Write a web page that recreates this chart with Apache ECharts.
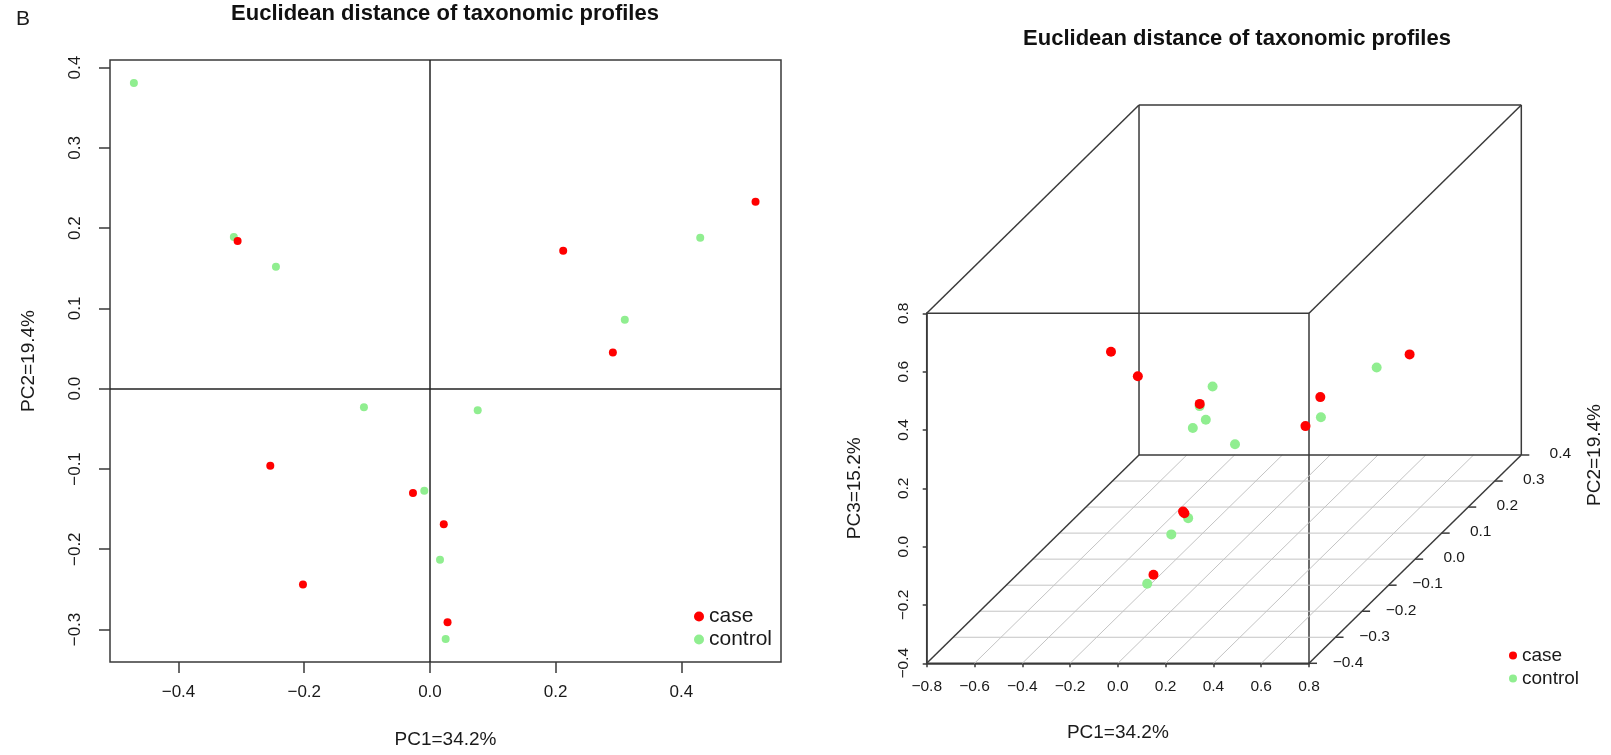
<!DOCTYPE html>
<html>
<head>
<meta charset="utf-8">
<script src="https://cdn.jsdelivr.net/npm/echarts@6/dist/echarts.min.js"></script>
<style>
html,body{margin:0;padding:0;background:#fff;}
#chart{width:1611px;height:755px;}
</style>
</head>
<body>
<div id="chart"></div>
<script>
// ---------------- data ----------------
const PANEL_LABEL = 'B';
const TITLE = 'Euclidean distance of taxonomic profiles';
const GROUPS = ['case', 'control'];
const PC1_NAME = 'PC1=34.2%';
const PC2_NAME = 'PC2=19.4%';
const PC3_NAME = 'PC3=15.2%';

const CASE_PC1 = [-0.306, 0.518, 0.212, 0.291, -0.254, -0.027, 0.022, -0.202, 0.028];
const CASE_PC2 = [0.184, 0.233, 0.172, 0.045, -0.096, -0.130, -0.169, -0.244, -0.291];
const CASE_PC3 = [-0.032, 0.094, 0.002, 0.016, 0.313, -0.121, -0.092, 0.529, -0.194];

const CONTROL_PC1 = [-0.471, -0.312, -0.245, 0.430, 0.310, -0.105, 0.076, -0.009, 0.016, 0.025];
const CONTROL_PC2 = [0.381, 0.189, 0.152, 0.188, 0.086, -0.023, -0.027, -0.127, -0.213, -0.312];
const CONTROL_PC3 = [-0.148, -0.044, -0.058, 0.089, 0.010, 0.070, 0.018, -0.146, -0.125, -0.206];

// tick labels
const X2D_TICKS = [-0.4, -0.2, 0.0, 0.2, 0.4];
const Y2D_TICKS = [-0.3, -0.2, -0.1, 0.0, 0.1, 0.2, 0.3, 0.4];
const PC1_3D_TICKS = [-0.8, -0.6, -0.4, -0.2, 0.0, 0.2, 0.4, 0.6, 0.8];
const PC2_3D_TICKS = [-0.4, -0.3, -0.2, -0.1, 0.0, 0.1, 0.2, 0.3, 0.4];
const PC3_3D_TICKS = [-0.4, -0.2, 0.0, 0.2, 0.4, 0.6, 0.8];

// ---------------- helpers ----------------
const FONT = '"Liberation Sans", Arial, Helvetica, sans-serif';
const C_CASE = '#FF0000';
const C_CONTROL = '#90EE90';
const C_AXIS = '#3a3a3a';
const C_TEXT = '#1a1a1a';

function fmt(v) {
  let s = Math.abs(v) < 1e-9 ? '0.0' : v.toFixed(1);
  return s.replace('-', '\u2212');
}
function zip2(a, b) { return a.map((v, i) => [v, b[i]]); }

// 3D box ranges (from tick arrays)
const P1MIN = PC1_3D_TICKS[0], P1MAX = PC1_3D_TICKS[PC1_3D_TICKS.length - 1];
const P2MIN = PC2_3D_TICKS[0], P2MAX = PC2_3D_TICKS[PC2_3D_TICKS.length - 1];
const P3MIN = PC3_3D_TICKS[0], P3MAX = PC3_3D_TICKS[PC3_3D_TICKS.length - 1];
// oblique projection: depth (PC2) shifts to the right and up, in front-face axis units
const KX = 1.1107, KY = 0.8927;
function proj(p1, p2, p3) {
  return [p1 + (p2 - P2MIN) * KX, p3 + (p2 - P2MIN) * KY];
}
function proj3(a1, a2, a3) { return a1.map((v, i) => proj(v, a2[i], a3[i])); }

const lineStyleBox = { stroke: C_AXIS, lineWidth: 1.5 };
function seg(api, a, b, style) {
  const p = api.coord(a), q = api.coord(b);
  return { type: 'line', shape: { x1: p[0], y1: p[1], x2: q[0], y2: q[1] }, style: style };
}

const chart = echarts.init(document.getElementById('chart'), null, { renderer: 'canvas' });

const option = {
  animation: false,
  backgroundColor: '#ffffff',
  textStyle: { fontFamily: FONT },
  graphic: [
    { type: 'text', x: 23, y: 19, style: { text: PANEL_LABEL, fontSize: 21, fontFamily: FONT, fill: C_TEXT, align: 'center', verticalAlign: 'middle' } },
    { type: 'text', x: 445, y: 14, style: { text: TITLE, fontSize: 22, fontWeight: 'bold', fontFamily: FONT, fill: '#111', align: 'center', verticalAlign: 'middle' } },
    { type: 'text', x: 1237, y: 38.5, style: { text: TITLE, fontSize: 22, fontWeight: 'bold', fontFamily: FONT, fill: '#111', align: 'center', verticalAlign: 'middle' } },
    { type: 'text', x: 1595, y: 455, rotation: Math.PI / 2, style: { text: PC2_NAME, fontSize: 19, fontFamily: FONT, fill: C_TEXT, align: 'center', verticalAlign: 'middle' } }
  ],
  legend: [
    { left: 694, top: 606, orient: 'vertical', padding: 0, itemWidth: 10, itemHeight: 10, itemGap: 2, icon: 'circle',
      data: GROUPS, selectedMode: false, textStyle: { fontSize: 21, color: C_TEXT, fontFamily: FONT } },
    { left: 1509, top: 646, orient: 'vertical', padding: 0, itemWidth: 8, itemHeight: 8, itemGap: 4, icon: 'circle',
      data: GROUPS, selectedMode: false, textStyle: { fontSize: 19, color: C_TEXT, fontFamily: FONT } }
  ],
  grid: [
    { left: 110, top: 60, width: 671, height: 602, show: true, borderColor: C_AXIS, borderWidth: 1.5, containLabel: false },
    { left: 926.7, top: 313.3, width: 382.3, height: 350, show: true, borderColor: C_AXIS, borderWidth: 1.5, containLabel: false }
  ],
  xAxis: [
    { type: 'value', gridIndex: 0, min: -0.509, max: 0.5585,
      axisLine: { show: false, onZero: false }, splitLine: { show: false },
      axisTick: { show: true, customValues: X2D_TICKS, length: 11, lineStyle: { color: C_AXIS, width: 1.5 } },
      axisLabel: { customValues: X2D_TICKS, formatter: fmt, fontSize: 17, color: C_TEXT, margin: 22, fontFamily: FONT },
      name: PC1_NAME, nameLocation: 'middle', nameGap: 68, nameTextStyle: { fontSize: 19, color: C_TEXT, fontFamily: FONT } },
    { type: 'value', gridIndex: 1, min: P1MIN, max: P1MAX, interval: 0.2,
      axisLine: { show: true, onZero: false, lineStyle: { color: C_AXIS, width: 1.5 } }, splitLine: { show: false },
      axisTick: { show: true, customValues: PC1_3D_TICKS, length: 4, lineStyle: { color: C_AXIS, width: 1.5 } },
      axisLabel: { customValues: PC1_3D_TICKS, formatter: fmt, fontSize: 15.5, color: C_TEXT, margin: 15, fontFamily: FONT },
      name: PC1_NAME, nameLocation: 'middle', nameGap: 60, nameTextStyle: { fontSize: 19, color: C_TEXT, fontFamily: FONT } }
  ],
  yAxis: [
    { type: 'value', gridIndex: 0, min: -0.3405, max: 0.4095,
      axisLine: { show: false, onZero: false }, splitLine: { show: false },
      axisTick: { show: true, customValues: Y2D_TICKS, length: 11, lineStyle: { color: C_AXIS, width: 1.5 } },
      axisLabel: { customValues: Y2D_TICKS, formatter: fmt, rotate: 90, fontSize: 17, color: C_TEXT, margin: 26, fontFamily: FONT },
      name: PC2_NAME, nameLocation: 'middle', nameGap: 72, nameRotate: 90, nameTextStyle: { fontSize: 19, color: C_TEXT, fontFamily: FONT } },
    { type: 'value', gridIndex: 1, min: P3MIN, max: P3MAX, interval: 0.2,
      axisLine: { show: true, onZero: false, lineStyle: { color: C_AXIS, width: 1.5 } }, splitLine: { show: false },
      axisTick: { show: true, customValues: PC3_3D_TICKS, length: 4, lineStyle: { color: C_AXIS, width: 1.5 } },
      axisLabel: { customValues: PC3_3D_TICKS, formatter: fmt, rotate: 90, fontSize: 15.5, color: C_TEXT, margin: 15, fontFamily: FONT },
      name: PC3_NAME, nameLocation: 'middle', nameGap: 62, nameRotate: 90, nameTextStyle: { fontSize: 19, color: C_TEXT, fontFamily: FONT } }
  ],
  series: [
    // ---- left 2D plot ----
    { name: GROUPS[1], type: 'scatter', xAxisIndex: 0, yAxisIndex: 0, symbol: 'circle', symbolSize: 8,
      itemStyle: { color: C_CONTROL, opacity: 1 }, data: zip2(CONTROL_PC1, CONTROL_PC2),
      markLine: { silent: true, symbol: ['none', 'none'], label: { show: false }, animation: false,
        lineStyle: { color: '#222', width: 1.5, type: 'solid' },
        data: [{ xAxis: 0 }, { yAxis: 0 }] } },
    { name: GROUPS[0], type: 'scatter', xAxisIndex: 0, yAxisIndex: 0, symbol: 'circle', symbolSize: 8,
      itemStyle: { color: C_CASE, opacity: 1 }, data: zip2(CASE_PC1, CASE_PC2) },

    // ---- right 3D plot: floor grid lines parallel to PC1 (at PC2 ticks) ----
    { type: 'custom', xAxisIndex: 1, yAxisIndex: 1, silent: true, clip: false,
      data: PC2_3D_TICKS.slice(1, -1).map(v => [v, 0]),
      renderItem: function (params, api) {
        const v = api.value(0);
        return seg(api, proj(P1MIN, v, P3MIN), proj(P1MAX, v, P3MIN), { stroke: '#c4c4c4', lineWidth: 1 });
      } },
    // floor grid lines parallel to PC2 (at PC1 ticks)
    { type: 'custom', xAxisIndex: 1, yAxisIndex: 1, silent: true, clip: false,
      data: PC1_3D_TICKS.slice(1, -1).map(v => [v, 0]),
      renderItem: function (params, api) {
        const v = api.value(0);
        return seg(api, proj(v, P2MIN, P3MIN), proj(v, P2MAX, P3MIN), { stroke: '#c4c4c4', lineWidth: 1 });
      } },
    // box: back face and connecting edges
    { type: 'custom', xAxisIndex: 1, yAxisIndex: 1, silent: true, clip: false,
      data: [[P1MIN, P3MIN]],
      renderItem: function (params, api) {
        const ch = [];
        const xs = [P1MIN, P1MAX], zs = [P3MIN, P3MAX];
        ch.push(seg(api, proj(P1MIN, P2MAX, P3MIN), proj(P1MAX, P2MAX, P3MIN), lineStyleBox));
        ch.push(seg(api, proj(P1MIN, P2MAX, P3MAX), proj(P1MAX, P2MAX, P3MAX), lineStyleBox));
        ch.push(seg(api, proj(P1MIN, P2MAX, P3MIN), proj(P1MIN, P2MAX, P3MAX), lineStyleBox));
        ch.push(seg(api, proj(P1MAX, P2MAX, P3MIN), proj(P1MAX, P2MAX, P3MAX), lineStyleBox));
        xs.forEach(x => zs.forEach(z => ch.push(seg(api, proj(x, P2MIN, z), proj(x, P2MAX, z), lineStyleBox))));
        return { type: 'group', children: ch };
      } },
    // PC2 axis ticks and labels
    { type: 'custom', xAxisIndex: 1, yAxisIndex: 1, silent: true, clip: false,
      data: PC2_3D_TICKS.map(v => [v, 0]),
      renderItem: function (params, api) {
        const v = api.value(0);
        const p = api.coord(proj(P1MAX, v, P3MIN));
        return { type: 'group', children: [
          { type: 'line', shape: { x1: p[0], y1: p[1], x2: p[0] + 8, y2: p[1] }, style: { stroke: C_AXIS, lineWidth: 1.5 } },
          { type: 'text', x: p[0] + 39, y: p[1] - 1,
            style: { text: fmt(v), fontSize: 15.5, fontFamily: FONT, fill: C_TEXT, align: 'center', verticalAlign: 'middle' } }
        ] };
      } },
    // points
    { name: GROUPS[1], type: 'scatter', xAxisIndex: 1, yAxisIndex: 1, symbol: 'circle', symbolSize: 10, clip: false,
      itemStyle: { color: C_CONTROL, opacity: 1 }, data: proj3(CONTROL_PC1, CONTROL_PC2, CONTROL_PC3) },
    { name: GROUPS[0], type: 'scatter', xAxisIndex: 1, yAxisIndex: 1, symbol: 'circle', symbolSize: 10, clip: false,
      itemStyle: { color: C_CASE, opacity: 1 }, data: proj3(CASE_PC1, CASE_PC2, CASE_PC3) }
  ]
};
chart.setOption(option);
</script>
</body>
</html>
